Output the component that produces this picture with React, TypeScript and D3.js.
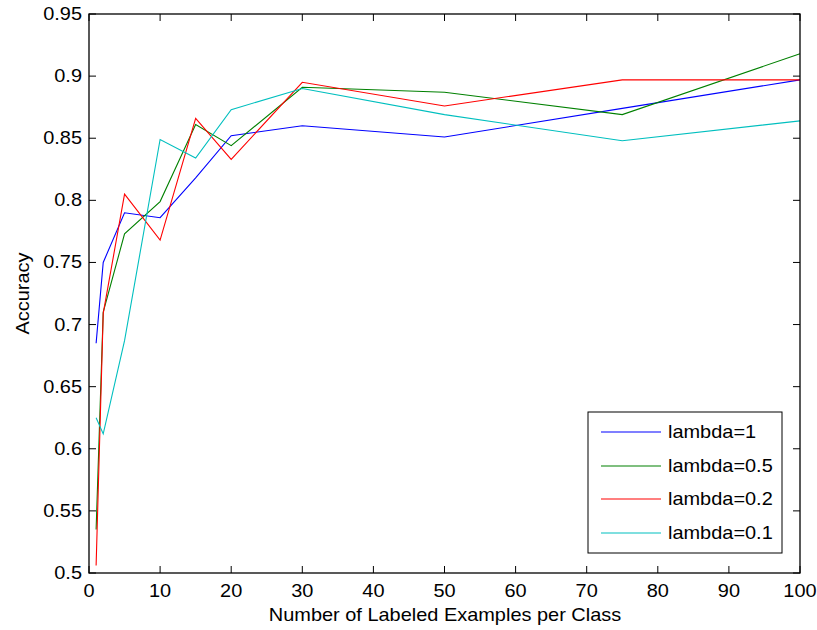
import React from "react";
import * as d3 from "d3";

const examplesPerClass = [1, 2, 5, 10, 15, 20, 30, 50, 75, 100];
const lambda1 = [0.685, 0.75, 0.79, 0.786, 0.818, 0.852, 0.86, 0.851, 0.874, 0.897];
const lambda05 = [0.535, 0.71, 0.773, 0.799, 0.861, 0.844, 0.891, 0.887, 0.869, 0.918];
const lambda02 = [0.506, 0.709, 0.805, 0.768, 0.866, 0.833, 0.895, 0.876, 0.897, 0.897];
const lambda01 = [0.625, 0.612, 0.687, 0.849, 0.834, 0.873, 0.89, 0.869, 0.848, 0.864];
const seriesNames = ["lambda=1", "lambda=0.5", "lambda=0.2", "lambda=0.1"];
const seriesColors = ["#0000ff", "#008000", "#ff0000", "#00bfbf"];
const xTicks = [0, 10, 20, 30, 40, 50, 60, 70, 80, 90, 100];
const yTicks = [0.5, 0.55, 0.6, 0.65, 0.7, 0.75, 0.8, 0.85, 0.9, 0.95];

const W = 817;
const H = 630;
const L = 89;
const R = 800;
const T = 14;
const B = 573;
const FONT = "'Liberation Sans', Arial, Helvetica, sans-serif";
const SX = 1.14;

type TxtProps = {
  x: number;
  y: number;
  size: number;
  anchor?: "start" | "middle" | "end";
  rotate?: number;
  children: React.ReactNode;
};

// Slightly widened text, anchored at (x, y)
function Txt({ x, y, size, anchor = "start", rotate = 0, children }: TxtProps) {
  return (
    <text
      transform={`translate(${x},${y}) rotate(${rotate}) scale(${SX},1)`}
      textAnchor={anchor}
      fontFamily={FONT}
      fontSize={size}
      fill="#000"
    >
      {children}
    </text>
  );
}

export default function App() {
  const x = d3.scaleLinear().domain([0, 100]).range([L, R]);
  const y = d3.scaleLinear().domain([0.5, 0.95]).range([B, T]);
  const all = [lambda1, lambda05, lambda02, lambda01];
  const line = d3
    .line<number>()
    .x((_, i) => x(examplesPerClass[i]))
    .y((v) => y(v));
  const tick = 7;

  const legend = { x: 588, y: 412, w: 194, h: 141 };
  const rowY = [432, 466, 499, 533];

  return (
    <svg width={W} height={H} style={{ position: "absolute", left: 0, top: 0 }}>
      <rect x={0} y={0} width={W} height={H} fill="#fff" />
      {all.map((s, k) => (
        <path key={k} d={line(s) || ""} fill="none" stroke={seriesColors[k]} strokeWidth={1.1} />
      ))}
      <rect x={L} y={T} width={R - L} height={B - T} fill="none" stroke="#000" strokeWidth={1.3} />
      {xTicks.map((t) => (
        <g key={"x" + t}>
          <line x1={x(t)} x2={x(t)} y1={B} y2={B - tick} stroke="#000" />
          <line x1={x(t)} x2={x(t)} y1={T} y2={T + tick} stroke="#000" />
          <Txt x={x(t)} y={597} size={17.5} anchor="middle">
            {t}
          </Txt>
        </g>
      ))}
      {yTicks.map((t) => (
        <g key={"y" + t}>
          <line x1={L} x2={L + tick} y1={y(t)} y2={y(t)} stroke="#000" />
          <line x1={R} x2={R - tick} y1={y(t)} y2={y(t)} stroke="#000" />
          <Txt x={82} y={y(t) + 6} size={17.5} anchor="end">
            {String(t)}
          </Txt>
        </g>
      ))}
      <Txt x={445} y={621} size={17.5} anchor="middle">
        Number of Labeled Examples per Class
      </Txt>
      <Txt x={29} y={(T + B) / 2} size={17.5} anchor="middle" rotate={-90}>
        Accuracy
      </Txt>
      <rect x={legend.x} y={legend.y} width={legend.w} height={legend.h} fill="#fff" stroke="#000" strokeWidth={1} />
      {seriesNames.map((n, k) => (
        <g key={n}>
          <line x1={601} x2={661} y1={rowY[k]} y2={rowY[k]} stroke={seriesColors[k]} strokeWidth={1.1} />
          <Txt x={668} y={rowY[k] + 6} size={17.5}>
            {n}
          </Txt>
        </g>
      ))}
    </svg>
  );
}
